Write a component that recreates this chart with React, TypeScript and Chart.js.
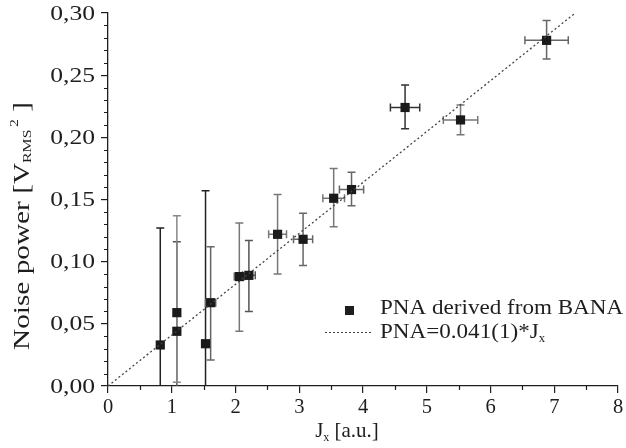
import React, { useEffect, useRef } from "react";
import { Chart, registerables } from "chart.js";
Chart.register(...registerables);

// ---- data ----
const jx = [0.82, 1.08, 1.08, 1.53, 1.61, 2.06, 2.21, 2.66, 3.06, 3.54, 3.82, 4.66, 5.53, 6.88];
const power = [0.033, 0.044, 0.059, 0.034, 0.067, 0.088, 0.089, 0.122, 0.118, 0.151, 0.158, 0.224, 0.214, 0.278];
const powerLow = [-0.06, -0.028, 0.003, -0.09, 0.021, 0.044, 0.06, 0.09, 0.097, 0.128, 0.145, 0.207, 0.202, 0.263];
const powerHigh = [0.127, 0.116, 0.137, 0.157, 0.112, 0.131, 0.117, 0.154, 0.139, 0.175, 0.172, 0.242, 0.226, 0.294];
const jxErr = [0, 0, 0, 0.06, 0.08, 0.08, 0.1, 0.14, 0.15, 0.17, 0.19, 0.23, 0.27, 0.34];
const fitJx = [0, 7.33];
const fitPower = [0, 0.3];
const xTickValues = [0, 1, 2, 3, 4, 5, 6, 7, 8];
const yTickValues = [0, 0.05, 0.1, 0.15, 0.2, 0.25, 0.3];
const yTickLabels = ["0,00", "0,05", "0,10", "0,15", "0,20", "0,25", "0,30"];
const seriesLabel = "PNA derived from BANA";
const fitLabelMain = "PNA=0.041(1)*J";
const fitLabelSub = "x";

// style (not data)
const errShade = ["#222", "#555", "#888", "#222", "#666", "#777", "#555", "#777", "#666", "#777", "#666", "#333", "#777", "#666"];

const FONT = "'Liberation Serif', 'DejaVu Serif', serif";
const INK = "#1e1e1e";

const extrasPlugin = {
  id: "extras",
  beforeDatasetsDraw(chart: any) {
    const { ctx, chartArea, scales } = chart;
    const xs = scales.x, ys = scales.y;
    ctx.save();
    ctx.beginPath();
    ctx.rect(chartArea.left, chartArea.top - 20, chartArea.right - chartArea.left + 10, chartArea.bottom - chartArea.top + 20);
    ctx.clip();
    ctx.lineWidth = 1.5;
    for (let i = 0; i < jx.length; i++) {
      ctx.strokeStyle = errShade[i % errShade.length];
      const px = xs.getPixelForValue(jx[i]);
      const py = ys.getPixelForValue(power[i]);
      const yl = ys.getPixelForValue(powerLow[i]);
      const yh = ys.getPixelForValue(powerHigh[i]);
      ctx.beginPath();
      ctx.moveTo(px, yl);
      ctx.lineTo(px, yh);
      ctx.moveTo(px - 4, yh);
      ctx.lineTo(px + 4, yh);
      ctx.moveTo(px - 4, yl);
      ctx.lineTo(px + 4, yl);
      ctx.stroke();
      if (jxErr[i] > 0) {
        const xl = xs.getPixelForValue(jx[i] - jxErr[i]);
        const xh = xs.getPixelForValue(jx[i] + jxErr[i]);
        ctx.beginPath();
        ctx.moveTo(xl, py);
        ctx.lineTo(xh, py);
        ctx.moveTo(xl, py - 4);
        ctx.lineTo(xl, py + 4);
        ctx.moveTo(xh, py - 4);
        ctx.lineTo(xh, py + 4);
        ctx.stroke();
      }
    }
    ctx.restore();
  },
  afterDraw(chart: any) {
    const { ctx, chartArea, scales } = chart;
    const xs = scales.x, ys = scales.y;
    ctx.save();
    // minor ticks
    ctx.strokeStyle = INK;
    ctx.lineWidth = 1.2;
    ctx.beginPath();
    for (let i = 0; i <= 30; i++) {
      if (i % 5 === 0) continue;
      const y = Math.round(ys.getPixelForValue(i / 100)) + 0.5;
      ctx.moveTo(chartArea.left - 4, y);
      ctx.lineTo(chartArea.left, y);
    }
    for (let i = 0; i < 8; i++) {
      const x = Math.round(xs.getPixelForValue(i + 0.5)) + 0.5;
      ctx.moveTo(x, chartArea.bottom);
      ctx.lineTo(x, chartArea.bottom + 4);
    }
    ctx.stroke();

    ctx.fillStyle = INK;
    // y tick labels
    ctx.font = `21px ${FONT}`;
    ctx.textBaseline = "middle";
    ctx.textAlign = "right";
    for (let i = 0; i < yTickValues.length; i++) {
      const y = ys.getPixelForValue(yTickValues[i]);
      ctx.save();
      ctx.translate(chartArea.left - 13, y + 1);
      ctx.scale(1.22, 1);
      ctx.fillText(yTickLabels[i], 0, 0);
      ctx.restore();
    }
    ctx.textAlign = "left";
    ctx.textBaseline = "alphabetic";

    // x title
    const big = `21px ${FONT}`;
    const small = `12px ${FONT}`;
    ctx.font = big;
    const wJ = ctx.measureText("J").width;
    ctx.font = small;
    const wx = ctx.measureText("x").width;
    ctx.font = big;
    const wRest = ctx.measureText(" [a.u.]").width;
    const total = wJ + wx + wRest;
    const sx = 347 - total / 2;
    const by = 437;
    ctx.fillText("J", sx, by);
    ctx.font = small;
    ctx.fillText("x", sx + wJ, by + 4);
    ctx.font = big;
    ctx.fillText(" [a.u.]", sx + wJ + wx, by);

    // y title
    ctx.save();
    ctx.translate(29, 226);
    ctx.rotate(-Math.PI / 2);
    ctx.scale(1.22, 1);
    const yt = `24px ${FONT}`;
    const ys2 = `13px ${FONT}`;
    ctx.font = yt;
    const p1 = "Noise power [V";
    const w1 = ctx.measureText(p1).width;
    ctx.font = ys2;
    const wR = ctx.measureText("RMS").width;
    const w2 = ctx.measureText("2").width;
    ctx.font = yt;
    const w3 = ctx.measureText(" ]").width;
    const tot = w1 + wR + 2 + w2 + w3;
    let tx = -tot / 2;
    ctx.fillText(p1, tx, 0);
    tx += w1;
    ctx.font = ys2;
    ctx.fillText("RMS", tx, 2);
    tx += wR + 2;
    ctx.fillText("2", tx, -11);
    tx += w2;
    ctx.font = yt;
    ctx.fillText(" ]", tx, 0);
    ctx.restore();

    // legend
    ctx.fillStyle = INK;
    ctx.fillRect(345, 306, 9, 9);
    ctx.save();
    ctx.translate(380, 0);
    ctx.scale(1.05, 1);
    ctx.font = `22px ${FONT}`;
    ctx.fillText(seriesLabel, 0, 314);
    ctx.fillText(fitLabelMain, 0, 338);
    const wf = ctx.measureText(fitLabelMain).width;
    ctx.font = small;
    ctx.fillText(fitLabelSub, wf, 342);
    ctx.restore();
    ctx.strokeStyle = "#444";
    ctx.lineWidth = 1.2;
    ctx.setLineDash([2, 2]);
    ctx.beginPath();
    ctx.moveTo(325, 332.5);
    ctx.lineTo(372, 332.5);
    ctx.stroke();
    ctx.setLineDash([]);
    ctx.restore();
  },
};

export default function App() {
  const ref = useRef<HTMLCanvasElement | null>(null);
  useEffect(() => {
    document.body.style.margin = "0";
    const canvas = ref.current!;
    const chart = new Chart(canvas, {
      type: "scatter",
      data: {
        datasets: [
          {
            type: "line",
            label: "fit",
            data: fitJx.map((x, i) => ({ x, y: fitPower[i] })),
            borderColor: "#444",
            borderWidth: 1.3,
            borderDash: [2, 2.5],
            pointRadius: 0,
            fill: false,
          } as any,
          {
            label: seriesLabel,
            data: jx.map((x, i) => ({ x, y: power[i] })),
            pointStyle: "rect",
            pointRadius: 6.5,
            backgroundColor: "#1a1a1a",
            borderColor: "#1a1a1a",
            borderWidth: 0,
          },
        ],
      },
      options: {
        responsive: false,
        animation: false,
        devicePixelRatio: 1,
        layout: { padding: { top: 13, right: 8, left: 0, bottom: 0 } },
        plugins: { legend: { display: false }, tooltip: { enabled: false } },
        scales: {
          x: {
            type: "linear",
            min: 0,
            max: 8,
            afterBuildTicks: (s: any) => {
              s.ticks = xTickValues.map((v) => ({ value: v }));
            },
            ticks: {
              font: { family: FONT, size: 20.5 },
              color: INK,
              padding: 2,
              callback: (v: any) => String(v),
            },
            grid: { display: true, drawOnChartArea: false, drawTicks: true, tickLength: 7, color: INK, lineWidth: 1.2 },
            border: { display: true, color: INK, width: 1.3 },
            afterFit: (s: any) => {
              s.height = 62;
            },
          },
          y: {
            type: "linear",
            min: 0,
            max: 0.3,
            afterBuildTicks: (s: any) => {
              s.ticks = yTickValues.map((v) => ({ value: v }));
            },
            ticks: { display: false },
            grid: { display: true, drawOnChartArea: false, drawTicks: true, tickLength: 7, color: INK, lineWidth: 1.2 },
            border: { display: true, color: INK, width: 1.3 },
            afterFit: (s: any) => {
              s.width = 108;
            },
          },
        },
      },
      plugins: [extrasPlugin],
    });
    return () => chart.destroy();
  }, []);
  return (
    <div style={{ width: 626, height: 448, background: "#fff" }}>
      <canvas ref={ref} width={626} height={448} />
    </div>
  );
}
